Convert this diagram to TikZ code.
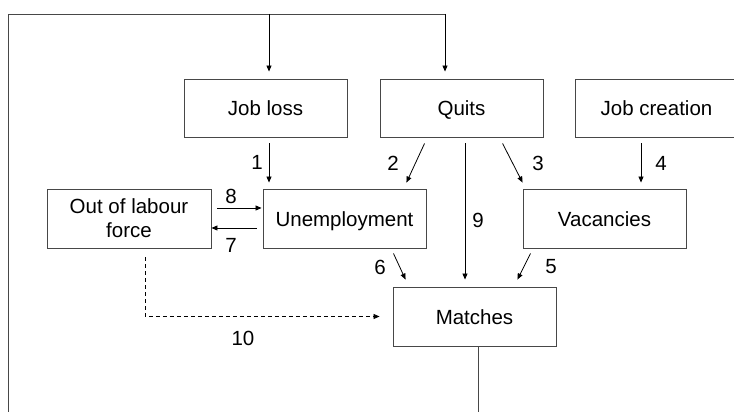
\documentclass[tikz,border=0pt]{standalone}
\usepackage{fontspec}
\setmainfont{Liberation Sans}
\usetikzlibrary{arrows.meta,calc}
\begin{document}
\begin{tikzpicture}[x=1pt,y=1pt,
  boxbase/.style={draw=black!72,line width=0.9pt,minimum width=163pt,minimum height=58pt,inner sep=0pt,align=center,font=\fontsize{20.5}{24}\selectfont},
  box/.style={boxbase,text height=16pt,text depth=0pt},
  lab/.style={inner sep=0pt,font=\fontsize{20.5}{24}\selectfont},
  arr/.style={draw=black,line width=0.8pt,-{Triangle[length=6pt,width=5pt]}},
  feed/.style={draw=black!72,line width=0.9pt},
  dsh/.style={arr,dash pattern=on 4pt off 3pt}]
\useasboundingbox (0,0) rectangle (734,412);
% boxes
\node[box] (jobloss) at (265.5,304) {Job loss};
\node[box] (quits) at (461.5,304) {Quits};
\node[box] (jobcreation) at (656.5,304) {Job creation};
\node[boxbase,minimum width=164pt,minimum height=59pt] (outlf) at (129,193.5) {Out of labour\\force};
\node[box,minimum height=59pt] (unemp) at (344.5,193.5) {Unemployment};
\node[box,minimum height=59pt] (vac) at (604.5,193.5) {Vacancies};
\node[box,minimum height=59pt] (matches) at (474.5,95.5) {Matches};
% feedback loop
\coordinate (topL) at (8,398);
\coordinate (topM) at (269,398);
\coordinate (topR) at (445,398);
\coordinate (botL) at (8,-2);
\coordinate (botR) at (478,-2);
\draw[feed] ([xshift=3.5pt]matches.south) -- (botR);
\draw[feed] (botL) -- (topL) -- (topR);
\draw[arr,shorten >=7pt] (topM) -- ([xshift=3.5pt]jobloss.north);
\draw[arr,shorten >=7pt] (topR) -- ([xshift=-16.5pt]quits.north);
% flows
\draw[arr,shorten <=6pt,shorten >=6pt] ([xshift=3.5pt]jobloss.south) -- ([xshift=3.5pt]jobloss.south |- unemp.north);
\draw[arr] ($(quits.south west)+(45,-6)$) -- ($(unemp.north east)+(-20,6)$);
\draw[arr] ($(quits.south west)+(123,-6)$) -- ($(vac.north west)+(0,6)$);
\draw[arr,shorten <=6pt,shorten >=6pt] ([xshift=-15.5pt]jobcreation.south) -- ([xshift=-15.5pt]jobcreation.south |- vac.north);
\draw[arr,shorten <=6pt,shorten >=7pt] ([xshift=3.5pt]quits.south) -- ([xshift=3.5pt]quits.south |- matches.north);
\draw[arr] ($(vac.south west)+(8,-5)$) -- ($(matches.north east)+(-39,7)$);
\draw[arr] ($(unemp.south east)+(-33,-5)$) -- ($(matches.north west)+(13,7)$);
\draw[arr,shorten <=6pt,shorten >=1pt] ([yshift=10.5pt]outlf.east) -- ([yshift=10.5pt]outlf.east -| unemp.west);
\draw[arr,shorten <=6pt] ([yshift=-9.5pt]unemp.west) -- ([yshift=-9.5pt]unemp.west -| outlf.east);
\draw[dsh,shorten <=9pt,shorten >=13pt] ([xshift=16pt]outlf.south) |- (matches.west);
% labels
\node[lab] (l1) at (257,250) {1};
\node[lab] (l2) at (393,249) {2};
\node[lab] (l3) at (538,249) {3};
\node[lab] (l4) at (661,249) {4};
\node[lab] (l9) at (478,192) {9};
\node[lab] (l8) at (231,216) {8};
\node[lab] (l7) at (231,167) {7};
\node[lab] (l6) at (380,145) {6};
\node[lab] (l5) at (551,145) {5};
\node[lab] (l10) at (243,74) {10};
\end{tikzpicture}
\end{document}
